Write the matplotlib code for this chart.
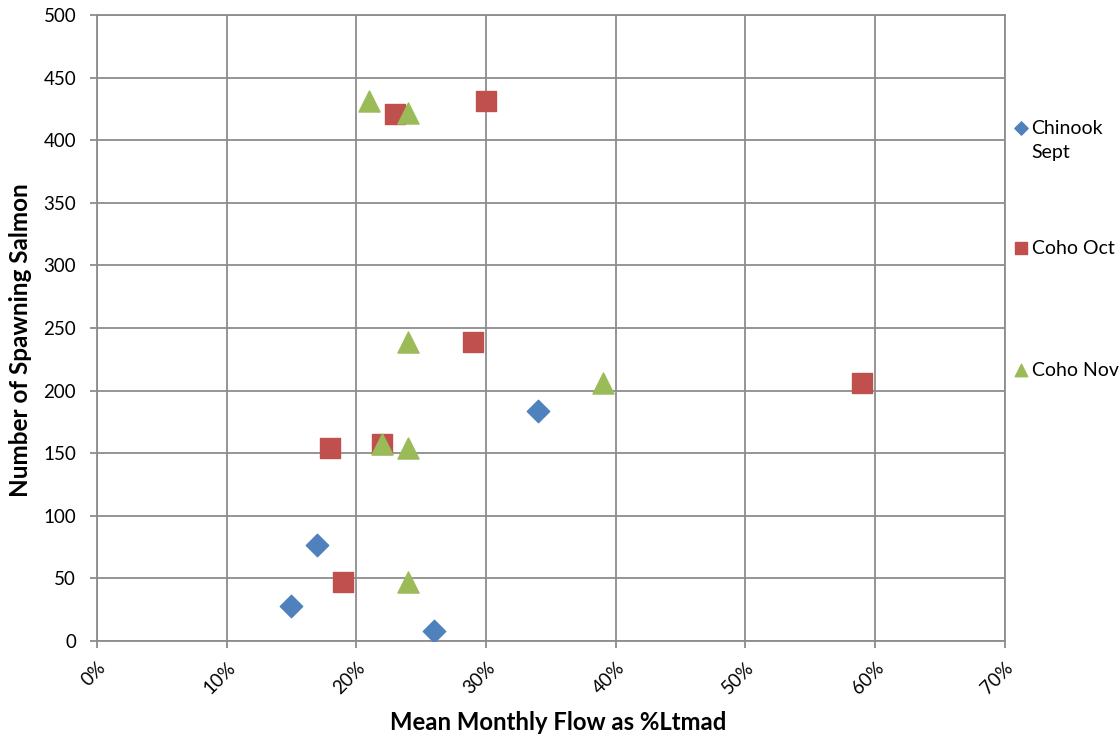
import matplotlib.pyplot as plt
from matplotlib.ticker import FuncFormatter

plt.rcParams['font.family'] = ['Lato', 'DejaVu Sans']

# data
chinook_x = [15, 17, 26, 34]
chinook_y = [28, 77, 8, 184]
oct_x = [18, 19, 22, 23, 30, 29, 59]
oct_y = [154, 47, 157, 421, 431, 239, 206]
nov_x = [21, 24, 24, 39, 22, 24, 24]
nov_y = [431, 422, 239, 206, 157, 154, 47]

series = [
    ('Chinook\nSept', chinook_x, chinook_y, 'D', 130, '#4F81BD', 0.8195),
    ('Coho Oct', oct_x, oct_y, 's', 210, '#C0504D', 0.628),
    ('Coho Nov', nov_x, nov_y, '^', 230, '#9BBB59', 0.433),
]

fig = plt.figure(figsize=(11.2, 7.38), dpi=100)
ax = fig.add_axes([0.0866, 0.1314, 0.8104, 0.8483])

for name, xs, ys, mk, size, col, ly in series:
    ax.scatter(xs, ys, marker=mk, s=size, color=col, zorder=3)
    # legend entry drawn by hand, marker next to first line of text
    ax.scatter([1.0176], [ly], marker=mk, s=size * 0.35, color=col,
               transform=ax.transAxes, clip_on=False)
    ax.text(1.0297, ly + 0.0125, name, transform=ax.transAxes, fontsize=14,
            va='top', ha='left', linespacing=1.5)

ax.set_xlim(0, 70)
ax.set_ylim(0, 500)
ax.set_xticks(range(0, 71, 10))
ax.set_yticks(range(0, 501, 50))
ax.xaxis.set_major_formatter(FuncFormatter(lambda v, p: '%d%%' % v))
ax.grid(True, color='#8c8c8c', linewidth=1.3)
ax.set_axisbelow(True)
for sp in ax.spines.values():
    sp.set_color('#8c8c8c')
    sp.set_linewidth(1.3)
ax.tick_params(axis='both', colors='#8c8c8c', labelcolor='black', labelsize=13.5, length=5, width=1.3)
ax.tick_params(axis='y', pad=10)
ax.tick_params(axis='x', pad=8)
plt.setp(ax.get_xticklabels(), rotation=45, ha='right', rotation_mode='anchor')

ax.set_xlabel('Mean Monthly Flow as %Ltmad', fontsize=17.2, fontweight='bold')
ax.set_ylabel('Number of Spawning Salmon', fontsize=17.5, fontweight='bold')
ax.xaxis.set_label_coords(0.508, -0.111)
ax.yaxis.set_label_coords(-0.0716, 0.481)

fig.savefig('out.png', dpi=100)
